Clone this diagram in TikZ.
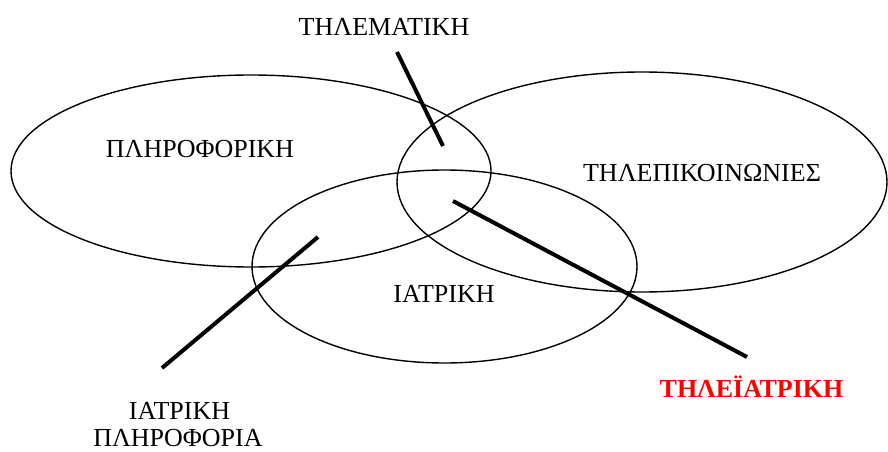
\documentclass[tikz,border=0pt]{standalone}
\usepackage{fontspec}
\setmainfont{Liberation Serif}
\begin{document}
\begin{tikzpicture}[x=1pt,y=-1pt,
  ring/.style={draw=black,line width=1.4pt},
  pointer/.style={draw=black,line width=4pt},
  lbl/.style={inner sep=0pt,anchor=base,font=\fontsize{26}{30}\selectfont},
  redlbl/.style={lbl,text=red,font=\fontsize{26}{30}\selectfont\bfseries}]
\useasboundingbox (0,0) rectangle (888,452);
\draw[ring] (251,171) ellipse [x radius=240, y radius=96];
\draw[ring] (642,182) ellipse [x radius=245, y radius=110];
\draw[ring] (444.5,266.5) ellipse [x radius=192.5, y radius=96.5];
\node[lbl] (tele) at (384,36) {ΤΗΛΕΜΑΤΙΚΗ};
\node[lbl] (plir) at (200,157) {ΠΛΗΡΟΦΟΡΙΚΗ};
\node[lbl] (tilep) at (702,181) {ΤΗΛΕΠΙΚΟΙΝΩΝΙΕΣ};
\node[lbl] (iatr) at (444,302) {ΙΑΤΡΙΚΗ};
\node[redlbl] (tiliatr) at (751.5,397) {ΤΗΛΕΪΑΤΡΙΚΗ};
\node[lbl] (iatpl1) at (179.5,419) {ΙΑΤΡΙΚΗ};
\node[lbl] (iatpl2) at (178,446) {ΠΛΗΡΟΦΟΡΙΑ};
\coordinate (a1) at (397,52); \coordinate (a2) at (443,146);
\coordinate (b1) at (453,201); \coordinate (b2) at (747,357);
\coordinate (c1) at (318,237); \coordinate (c2) at (162,368);
\draw[pointer] (a1) -- (a2);
\draw[pointer] (b1) -- (b2);
\draw[pointer] (c1) -- (c2);
\end{tikzpicture}
\end{document}
